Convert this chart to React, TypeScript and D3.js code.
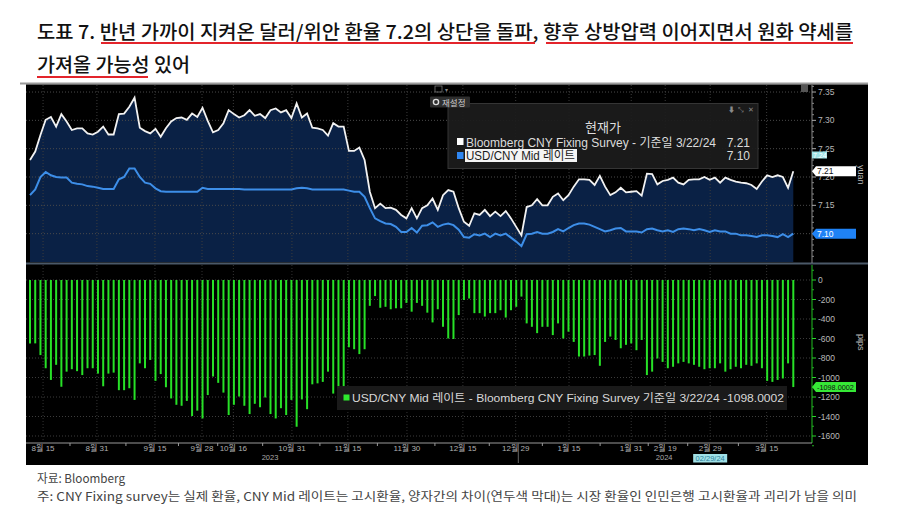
import React from 'react';
import * as d3 from 'd3';

// Bloomberg CNY Fixing Survey (white line), yuan
const fixingSurvey = [
  7.230, 7.245, 7.274, 7.301, 7.306, 7.289, 7.311, 7.298, 7.283, 7.286,
  7.286, 7.277, 7.275, 7.280, 7.289, 7.275, 7.275, 7.311, 7.312, 7.324,
  7.340, 7.287, 7.281, 7.277, 7.285, 7.271, 7.286, 7.298, 7.304, 7.305,
  7.301, 7.312, 7.306, 7.322, 7.299, 7.279, 7.283, 7.295, 7.318, 7.311,
  7.305, 7.309, 7.318, 7.308, 7.311, 7.304, 7.318, 7.321, 7.314, 7.318,
  7.304, 7.330, 7.305, 7.312, 7.287, 7.286, 7.283, 7.273, 7.295, 7.289,
  7.289, 7.246, 7.246, 7.252, 7.230, 7.174, 7.145, 7.153, 7.145, 7.146,
  7.142, 7.133, 7.127, 7.145, 7.127, 7.145, 7.150, 7.162, 7.142, 7.168,
  7.177, 7.174, 7.145, 7.121, 7.114, 7.136, 7.133, 7.142, 7.131, 7.139,
  7.131, 7.140, 7.127, 7.112, 7.097, 7.147, 7.150, 7.161, 7.150, 7.150,
  7.165, 7.171, 7.159, 7.168, 7.183, 7.196, 7.196, 7.195, 7.186, 7.202,
  7.183, 7.168, 7.173, 7.181, 7.173, 7.174, 7.175, 7.167, 7.206, 7.205,
  7.187, 7.193, 7.195, 7.199, 7.190, 7.187, 7.195, 7.196, 7.196, 7.200,
  7.195, 7.199, 7.190, 7.199, 7.195, 7.192, 7.190, 7.189, 7.186, 7.179,
  7.192, 7.203, 7.200, 7.203, 7.200, 7.181, 7.210,
];

// USD/CNY Mid rate (blue line), yuan
const cnyMid = [
  7.168, 7.178, 7.200, 7.209, 7.203, 7.200, 7.199, 7.199, 7.190, 7.188,
  7.187, 7.184, 7.183, 7.181, 7.179, 7.179, 7.179, 7.196, 7.200, 7.215,
  7.215, 7.200, 7.190, 7.188, 7.180, 7.175, 7.174, 7.174, 7.174, 7.174,
  7.174, 7.174, 7.174, 7.181, 7.179, 7.179, 7.179, 7.179, 7.179, 7.179,
  7.179, 7.178, 7.178, 7.178, 7.178, 7.178, 7.178, 7.178, 7.178, 7.178,
  7.178, 7.180, 7.181, 7.180, 7.178, 7.178, 7.178, 7.178, 7.178, 7.178,
  7.178, 7.176, 7.174, 7.174, 7.165, 7.145, 7.127, 7.122, 7.118, 7.117,
  7.112, 7.103, 7.103, 7.110, 7.102, 7.114, 7.115, 7.120, 7.112, 7.116,
  7.118, 7.115, 7.107, 7.094, 7.093, 7.099, 7.097, 7.100, 7.094, 7.100,
  7.097, 7.100, 7.093, 7.086, 7.078, 7.099, 7.100, 7.103, 7.100, 7.100,
  7.103, 7.108, 7.104, 7.110, 7.115, 7.118, 7.118, 7.116, 7.112, 7.108,
  7.104, 7.106, 7.109, 7.110, 7.104, 7.104, 7.104, 7.102, 7.108, 7.109,
  7.106, 7.104, 7.106, 7.103, 7.108, 7.109, 7.108, 7.106, 7.108, 7.106,
  7.103, 7.106, 7.104, 7.104, 7.100, 7.100, 7.097, 7.097, 7.096, 7.094,
  7.097, 7.097, 7.096, 7.094, 7.099, 7.094, 7.100,
];

// Mid - Fixing spread, pips (green bars)
const spreadPips = [
  -650, -650, -770, -905, -1025, -870, -1095, -940, -915, -935,
  -975, -905, -905, -960, -1090, -960, -950, -1130, -1130, -1110,
  -1230, -855, -905, -820, -1035, -965, -1100, -1215, -1280, -1290,
  -1240, -1395, -1340, -1420, -1180, -990, -1055, -1155, -1385, -1280,
  -1195, -1290, -1375, -1270, -1305, -1205, -1375, -1420, -1315, -1385,
  -1230, -1505, -1225, -1325, -1070, -1060, -1045, -940, -1165, -1110,
  -1095, -690, -710, -760, -710, -265, -165, -285, -275, -300,
  -290, -290, -235, -325, -235, -265, -335, -435, -300, -480,
  -600, -605, -360, -205, -190, -340, -340, -375, -340, -340,
  -310, -385, -310, -275, -170, -445, -480, -545, -480, -480,
  -565, -445, -600, -530, -635, -785, -785, -775, -770, -880,
  -635, -580, -615, -700, -665, -650, -720, -615, -975, -940,
  -805, -840, -905, -890, -855, -840, -855, -870, -890, -915,
  -905, -905, -855, -940, -915, -890, -905, -870, -880, -855,
  -905, -1035, -1045, -1025, -1010, -855, -1098.0002,
];

const dateTickLabels = ['8월 15', '8월 31', '9월 15', '9월 28', '10월 16', '10월 31', '11월 15', '11월 30',
  '12월 15', '12월 29', '1월 15', '1월 31', '2월 19', '2월 29', '3월 15'];
const dateTickIndex = [2.5, 12.8, 23.9, 32.9, 38.9, 50.1, 60.8, 72.1, 82.8, 92.9, 103.1, 115.0, 121.5, 130.1, 140.9];
const yearLabels = ['2023', '2024'];
const yearLabelIndex = [45.9, 121.3];
const yearBreakIndex = 93.4;
const highlightDate = '02/29/24';

const yuanTicks = [7.10, 7.15, 7.20, 7.25, 7.30, 7.35];
const pipsTicks = [0, -200, -400, -600, -800, -1000, -1200, -1400, -1600];

const titleLine1 = '도표 7. 반년 가까이 지켜온 달러/위안 환율 7.2의 상단을 돌파, 향후 상방압력 이어지면서 원화 약세를';
const titleLine2 = '가져올 가능성 있어';
const sourceText = '자료: Bloomberg';
const noteText = '주: CNY Fixing survey는 실제 환율, CNY Mid 레이트는 고시환율, 양자간의 차이(연두색 막대)는 시장 환율인 인민은행 고시환율과 괴리가 남을 의미';

const FONT = "'Liberation Sans', 'Noto Sans CJK KR', sans-serif";
const KFONT = "'Noto Sans CJK KR', sans-serif";

export default function App() {
  const N = fixingSurvey.length;
  const left = 26, plotRight = 812, right = 868;
  const topY0 = 85, topY1 = 262, botY0 = 265, botY1 = 443;

  const x = d3.scaleLinear().domain([0, N - 1]).range([30, 793.3]);
  const yTop = d3.scaleLinear().domain([7.05, 7.3624]).range([topY1, topY0]);
  const yBot = d3.scaleLinear().domain([0, -1600]).range([280, 436]);

  const area = d3.area<number>().x((_, i) => x(i)).y0(topY1).y1((d) => yTop(d));
  const line = d3.line<number>().x((_, i) => x(i)).y((d) => yTop(d));

  const minorYuan = d3.range(7.06, 7.36, 0.01).filter((v) => Math.abs(Math.round(v * 20) - v * 20) > 0.01);
  const minorPips = d3.range(-1700, 101, 100).filter((v) => v % 200 !== 0);

  const lastW = fixingSurvey[N - 1];
  const lastB = cnyMid[N - 1];
  const lastS = spreadPips[N - 1];

  const badge = (cy: number, fill: string, textFill: string, label: string, key: string, fs = 8.5) => (
    <g key={key}>
      <path d={`M${plotRight},${cy} L${plotRight + 4},${cy - 5} L856,${cy - 5} L856,${cy + 5} L${plotRight + 4},${cy + 5} Z`} fill={fill} />
      <text x={plotRight + 5} y={cy + 3} fontSize={fs} fill={textFill} fontFamily={FONT}>{label}</text>
    </g>
  );

  return (
    <div style={{ position: 'absolute', left: 0, top: 0, width: 900, height: 530, background: '#fff' }}>
      <svg width={900} height={530} style={{ display: 'block' }}>
        <rect width={900} height={530} fill="#fff" />
        {/* Title */}
        <text x={37} y={39} fontSize={19} fontWeight={500} fill="#111" fontFamily={KFONT}
          textLength={816} lengthAdjust="spacingAndGlyphs">{titleLine1}</text>
        <text x={37} y={72} fontSize={19} fontWeight={500} fill="#111" fontFamily={KFONT}
          textLength={153} lengthAdjust="spacingAndGlyphs">{titleLine2}</text>
        <line x1={101} x2={535} y1={43} y2={43} stroke="#e3242b" strokeWidth={2} />
        <line x1={546} x2={853} y1={43} y2={43} stroke="#e3242b" strokeWidth={2} />
        <line x1={37} x2={148} y1={77} y2={77} stroke="#e3242b" strokeWidth={2} />
        <line x1={20} x2={868} y1={83.5} y2={83.5} stroke="#9a9a9a" strokeWidth={2} />

        {/* Chart background */}
        <rect x={left} y={84.5} width={right - left} height={465 - 84.5} fill="#000" />

        {/* Top panel */}
        <path d={area(fixingSurvey) || ''} fill="#0a2145" />
        {yuanTicks.map((v) => (
          <line key={'gy' + v} x1={left} x2={plotRight} y1={yTop(v)} y2={yTop(v)} stroke="#4a4a4a" strokeWidth={1} strokeDasharray="1,2" />
        ))}
        {dateTickIndex.map((t, i) => (
          <line key={'gx' + i} x1={x(t)} x2={x(t)} y1={topY0} y2={topY1} stroke="#3c3c3c" strokeWidth={1} strokeDasharray="1,2" />
        ))}
        <path d={line(cnyMid) || ''} fill="none" stroke="#3d8ee8" strokeWidth={2} />
        <path d={line(fixingSurvey) || ''} fill="none" stroke="#f2f2f2" strokeWidth={1.8} />

        {/* Panel divider */}
        <line x1={left} x2={right} y1={263.5} y2={263.5} stroke="#4b5968" strokeWidth={2} />

        {/* Bottom panel grid */}
        {pipsTicks.map((v) => (
          <line key={'gp' + v} x1={left} x2={plotRight} y1={yBot(v)} y2={yBot(v)} stroke="#3c3c3c" strokeWidth={1} strokeDasharray="1,2" />
        ))}
        {dateTickIndex.map((t, i) => (
          <line key={'gx2' + i} x1={x(t)} x2={x(t)} y1={botY0} y2={botY1 - 2} stroke="#333" strokeWidth={1} strokeDasharray="1,2" />
        ))}
        {spreadPips.map((v, i) => (
          <line key={'b' + i} x1={x(i)} x2={x(i)} y1={yBot(0)} y2={yBot(v)} stroke="#27e127" strokeWidth={2} />
        ))}

        {/* Right axes */}
        <line x1={plotRight} x2={plotRight} y1={topY0} y2={263} stroke="#8a8a8a" strokeWidth={1} />
        {yuanTicks.map((v) => (
          <g key={'ty' + v}>
            <line x1={plotRight} x2={plotRight + 4} y1={yTop(v)} y2={yTop(v)} stroke="#aaa" />
            <text x={plotRight + 6} y={yTop(v) + 3} fontSize={8.5} fill="#b8b8b8" fontFamily={FONT}>{v.toFixed(2)}</text>
          </g>
        ))}
        {minorYuan.map((v, i) => (
          <line key={'my' + i} x1={plotRight} x2={plotRight + 2} y1={yTop(v)} y2={yTop(v)} stroke="#888" />
        ))}
        <line x1={plotRight} x2={plotRight} y1={botY0} y2={botY1} stroke="#22c022" strokeWidth={1} />
        {pipsTicks.map((v) => (
          <g key={'tp' + v}>
            <line x1={plotRight} x2={plotRight + 4} y1={yBot(v)} y2={yBot(v)} stroke="#2ad42a" />
            <text x={plotRight + 6} y={yBot(v) + 3} fontSize={8.5} fill="#b8b8b8" fontFamily={FONT}>{v === 0 ? '0' : '-' + Math.abs(v)}</text>
          </g>
        ))}
        {minorPips.map((v, i) => (
          <line key={'mp' + i} x1={plotRight} x2={plotRight + 2} y1={yBot(v)} y2={yBot(v)} stroke="#22b022" />
        ))}
        <text transform="translate(858,165) rotate(90)" fontSize={9} fill="#b8b8b8" fontFamily={FONT}>yuan</text>
        <text transform="translate(858,334) rotate(90)" fontSize={9} fill="#b8b8b8" fontFamily={FONT}>pips</text>

        {/* Value badges */}
        <rect x={plotRight} y={151.5} width={15} height={7} fill="#9fe3e6" />
        <text x={plotRight + 1} y={157.5} fontSize={7} fill="#fff" fontFamily={FONT}>7.24</text>
        {badge(yTop(lastW), '#ffffff', '#111', lastW.toFixed(2), 'bw')}
        {badge(yTop(lastB), '#1f82f5', '#fff', lastB.toFixed(2), 'bb')}
        {badge(yBot(lastS), '#36e836', '#111', lastS.toFixed(4), 'bs', 7.3)}

        {/* Bottom date axis */}
        <line x1={left} x2={plotRight} y1={botY1} y2={botY1} stroke="#999" strokeWidth={1} />
        {dateTickIndex.slice(0, -1).map((t, i) => {
          const m = (x(t) + x(dateTickIndex[i + 1])) / 2;
          return <line key={'mt' + i} x1={m} x2={m} y1={botY1} y2={botY1 + 3} stroke="#999" />;
        })}
        {dateTickLabels.map((lab, i) => (
          <text key={'dl' + i} x={x(dateTickIndex[i])} y={451} fontSize={8} fill="#b0b0b0" textAnchor="middle" fontFamily={FONT}>{lab}</text>
        ))}
        <line x1={x(yearBreakIndex)} x2={x(yearBreakIndex)} y1={botY1} y2={463} stroke="#666" strokeWidth={1} />
        {yearLabels.map((lab, i) => (
          <text key={'yl' + i} x={x(yearLabelIndex[i])} y={460} fontSize={7.5} fill="#a8a8a8" textAnchor="middle" fontFamily={FONT}>{lab}</text>
        ))}
        <rect x={x(dateTickIndex[13]) - 17} y={454} width={34} height={8.5} fill="#9fe0e6" />
        <text x={x(dateTickIndex[13])} y={461} fontSize={7.5} fill="#2f7f9a" textAnchor="middle" fontFamily={FONT}>{highlightDate}</text>

        {/* Top legend box */}
        <rect x={448} y={103.5} width={310} height={65} fill="#1c1c1c" fillOpacity={0.93} stroke="#353535" strokeWidth={1} />
        <text x={728} y={112} fontSize={7} fill="#8a8a8a" fontFamily={FONT}>⬇</text>
        <text x={738} y={112} fontSize={7} fill="#8a8a8a" fontFamily={FONT}>⤡</text>
        <text x={748} y={112} fontSize={7} fill="#8a8a8a" fontFamily={FONT}>✕</text>
        <text x={603} y={132} fontSize={13} fill="#dedede" textAnchor="middle" fontFamily={KFONT}>현재가</text>
        <rect x={457} y={138} width={6.5} height={7} fill="#fff" />
        <text x={466} y={147} fontSize={12.5} fill="#dcdcdc" fontFamily={FONT}
          textLength={250} lengthAdjust="spacingAndGlyphs">Bloomberg CNY Fixing Survey -  기준일 3/22/24</text>
        <text x={750} y={147} fontSize={12} fill="#dcdcdc" textAnchor="end" fontFamily={FONT}>{lastW.toFixed(2)}</text>
        <rect x={457} y={152} width={6.5} height={7} fill="#2f86f0" />
        <rect x={465} y={149} width={112} height={13} fill="#f4f4f4" />
        <text x={466} y={160} fontSize={12.5} fill="#1a1a1a" fontFamily={FONT}
          textLength={109} lengthAdjust="spacingAndGlyphs">USD/CNY Mid 레이트</text>
        <text x={750} y={160} fontSize={12} fill="#dcdcdc" textAnchor="end" fontFamily={FONT}>{lastB.toFixed(2)}</text>

        {/* Top tool buttons (drawn above the legend box) */}
        <rect x={801} y={85} width={7} height={7} fill="#555" />
        <rect x={435} y={86} width={7} height={6} fill="none" stroke="#777" strokeWidth={0.8} />
        <text x={445} y={92} fontSize={6} fill="#888" fontFamily={FONT}>▾</text>
        <rect x={430} y={96.5} width={40} height={11} rx={1} fill="#2e2e2e" />
        <circle cx={436} cy={102} r={2.6} fill="none" stroke="#ddd" strokeWidth={1.4} />
        <text x={442} y={105.5} fontSize={8.5} fill="#cfcfcf" fontFamily={KFONT}>재설정</text>

        {/* Bottom legend box */}
        <rect x={337} y={386} width={450} height={24} fill="#1c1c1c" fillOpacity={0.93} />
        <rect x={343.5} y={394.5} width={6} height={6} fill="#2ee82e" />
        <text x={352} y={402} fontSize={11.5} fill="#d8d8d8" fontFamily={FONT}
          textLength={432} lengthAdjust="spacingAndGlyphs">{`USD/CNY Mid 레이트 - Bloomberg CNY Fixing Survey 기준일 3/22/24 ${lastS.toFixed(4)}`}</text>

        {/* Footer */}
        <text x={37} y={483} fontSize={12} fill="#444" fontFamily={KFONT} textLength={88} lengthAdjust="spacingAndGlyphs">{sourceText}</text>
        <text x={37} y={501} fontSize={12} fill="#444" fontFamily={KFONT} textLength={820} lengthAdjust="spacingAndGlyphs">{noteText}</text>
      </svg>
    </div>
  );
}
